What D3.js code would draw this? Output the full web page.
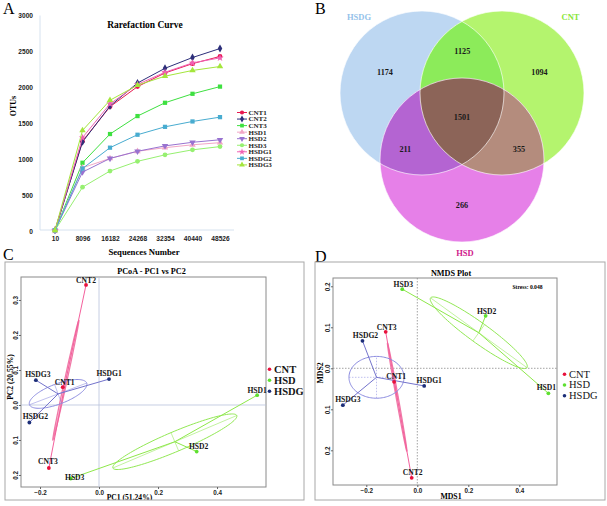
<!DOCTYPE html>
<html>
<head>
<meta charset="utf-8">
<script src="https://cdn.jsdelivr.net/npm/d3@7"></script>
<style>
  body { margin: 0; background: #fff; }
  svg { display: block; font-family: "Liberation Serif", "Times New Roman", serif; }
</style>
</head>
<body>
<svg id="chart" width="607" height="506"></svg>
<script>
// ---------- A: rarefaction ----------
const seqDepth = [10, 8096, 16182, 24268, 32354, 40440, 48526];
const otuTicks = [0, 500, 1000, 1500, 2000, 2500, 3000];
const rareNames = ["CNT1", "CNT2", "CNT3", "HSD1", "HSD2", "HSD3", "HSDG1", "HSDG2", "HSDG3"];
const otuCNT1  = [10, 1250, 1730, 2010, 2200, 2330, 2430];
const otuCNT2  = [10, 1240, 1740, 2060, 2265, 2415, 2540];
const otuCNT3  = [10, 950, 1350, 1600, 1785, 1910, 2010];
const otuHSD1  = [10, 880, 1010, 1110, 1160, 1200, 1230];
const otuHSD2  = [10, 820, 1010, 1110, 1185, 1235, 1270];
const otuHSD3  = [10, 610, 835, 970, 1060, 1130, 1175];
const otuHSDG1 = [10, 1300, 1770, 2040, 2210, 2340, 2410];
const otuHSDG2 = [10, 870, 1160, 1340, 1450, 1525, 1585];
const otuHSDG3 = [10, 1400, 1820, 2030, 2155, 2235, 2290];
const rareValues = [otuCNT1, otuCNT2, otuCNT3, otuHSD1, otuHSD2, otuHSD3, otuHSDG1, otuHSDG2, otuHSDG3];

// ---------- B: venn ----------
const vennSets = ["HSDG", "CNT", "HSD"];
const vennRegions = ["HSDG", "CNT", "HSD", "HSDG&CNT", "HSDG&HSD", "CNT&HSD", "HSDG&CNT&HSD"];
const vennCounts = [1174, 1094, 266, 1125, 211, 355, 1501];

// ---------- C: PCoA ----------
const groups = ["CNT", "HSD", "HSDG"];
const pcoaSamples = ["CNT1", "CNT2", "CNT3", "HSD1", "HSD2", "HSD3", "HSDG1", "HSDG2", "HSDG3"];
const pcoaPC1 = [-0.123, -0.044, -0.170, 0.536, 0.331, -0.096, 0.034, -0.236, -0.214];
const pcoaPC2 = [0.051, 0.343, -0.180, 0.028, -0.133, -0.210, 0.074, -0.050, 0.071];
// ellipse half-axes (data units), per group
const pcoaEllipseMajor = [[0.044, 0.171], [0.210, 0.075], [0.097, 0.031]];
const pcoaEllipseMinor = [[0.004, -0.001], [0.013, -0.026], [0.012, -0.027]];
const pcoaXTicks = [-0.2, 0, 0.2, 0.4];
const pcoaYTicks = [-0.2, -0.1, 0, 0.1, 0.2, 0.3];

// ---------- D: NMDS ----------
const nmdsSamples = ["CNT1", "CNT2", "CNT3", "HSD1", "HSD2", "HSD3", "HSDG1", "HSDG2", "HSDG3"];
const nmdsMDS1 = [-0.091, -0.022, -0.124, 0.514, 0.268, -0.059, 0.027, -0.215, -0.292];
const nmdsMDS2 = [-0.033, -0.267, 0.089, -0.061, 0.128, 0.193, -0.043, 0.067, -0.090];
const nmdsEllipseMajor = [[0.038, -0.132], [0.189, -0.085], [0.108, 0]];
const nmdsEllipseMinor = [[0.004, 0.0005], [-0.023, -0.020], [0, 0.051]];
const nmdsXTicks = [-0.2, 0, 0.2, 0.4];
const nmdsYTicks = [-0.2, -0.1, 0, 0.1, 0.2];
const nmdsStress = 0.048;

// ---------- styles ----------
const rareColors = ["#e8174f", "#2d2f7a", "#3ee040", "#f2a6c6", "#9872d0", "#96f070", "#f062b4", "#48acd0", "#a4e63c"];
const rareSymbols = [d3.symbolCircle, d3.symbolDiamond, d3.symbolSquare, d3.symbolTriangle, "down",
                     d3.symbolCircle, d3.symbolStar, d3.symbolSquare, d3.symbolTriangle];
const groupPointColor = { CNT: "#e8103c", HSD: "#5ee030", HSDG: "#1c2e78" };
const groupLineColor  = { CNT: "#f4609c", HSD: "#8ee84a", HSDG: "#7474cc" };
const groupEllColor   = { CNT: "#f07aa8", HSD: "#92e854", HSDG: "#8c8ce0" };

const svg = d3.select("#chart");
svg.append("rect").attr("width", 607).attr("height", 506).attr("fill", "#fff");

function panelLetter(t, x, y) {
    svg.append("text").attr("x", x).attr("y", y).attr("font-size", 16).text(t);
}
panelLetter("A", 3, 14);
panelLetter("B", 315, 14);
panelLetter("C", 3, 260);
panelLetter("D", 315, 262);

// ================= A =================
const xA = d3.scaleLinear().domain([10, 48526]).range([55, 220]);
const yA = d3.scaleLinear().domain([0, 3000]).range([231, 15.5]);
const gA = svg.append("g");

gA.append("line").attr("x1", 40).attr("x2", 40).attr("y1", yA(3000)).attr("y2", 230)
    .attr("stroke", "#d6e2ef").attr("stroke-width", 1);
gA.append("line").attr("x1", 40).attr("x2", 234).attr("y1", 230).attr("y2", 230)
    .attr("stroke", "#d6e2ef").attr("stroke-width", 1);

gA.append("g").attr("transform", "translate(40,0)")
    .call(d3.axisLeft(yA).tickValues(otuTicks).tickSize(0).tickPadding(7).tickFormat(d3.format("d")))
    .call(g => g.select(".domain").remove())
    .selectAll("text").attr("font-size", 6.6).attr("font-weight", "bold").attr("font-family", "inherit").attr("fill", "#222");

gA.append("g").attr("transform", "translate(0,230)")
    .call(d3.axisBottom(xA).tickValues(seqDepth).tickSize(0).tickPadding(6).tickFormat(d3.format("d")))
    .call(g => g.select(".domain").remove())
    .selectAll("text").attr("font-size", 6.6).attr("font-weight", "bold").attr("font-family", "inherit").attr("fill", "#222");

gA.append("text").attr("x", 145).attr("y", 28).attr("text-anchor", "middle")
    .attr("font-size", 9.5).attr("font-weight", "bold").text("Rarefaction Curve");
gA.append("text").attr("x", 144).attr("y", 255).attr("text-anchor", "middle")
    .attr("font-size", 8.7).attr("font-weight", "bold").text("Sequences Number");
gA.append("text").attr("transform", "translate(16,106) rotate(-90)").attr("text-anchor", "middle")
    .attr("font-size", 8).attr("font-weight", "bold").text("OTUs");

function symbolPath(sym, size) {
    if (sym === "down") return d3.symbol(d3.symbolTriangle, size)();
    return d3.symbol(sym, size)();
}
function symbolRot(sym) { return sym === "down" ? " rotate(180)" : ""; }

const lineA = d3.line().x((d, i) => xA(seqDepth[i])).y(d => yA(d));
rareNames.forEach((name, si) => {
    const vals = rareValues[si];
    const col = rareColors[si];
    gA.append("path").attr("d", lineA(vals)).attr("fill", "none")
        .attr("stroke", col).attr("stroke-width", 1);
    gA.selectAll(null).data(vals).enter().append("path")
        .attr("transform", (d, i) => `translate(${xA(seqDepth[i])},${yA(d)})` + symbolRot(rareSymbols[si]))
        .attr("d", symbolPath(rareSymbols[si], 18))
        .attr("fill", col);
});

// legend A
const legA = gA.append("g").attr("transform", "translate(242,112.5)");
rareNames.forEach((name, i) => {
    const row = legA.append("g").attr("transform", `translate(0,${i * 6.55})`);
    row.append("line").attr("x1", -5).attr("x2", 5).attr("stroke", rareColors[i]).attr("stroke-width", 1);
    row.append("path").attr("d", symbolPath(rareSymbols[i], 14))
        .attr("transform", symbolRot(rareSymbols[i]).trim()).attr("fill", rareColors[i]);
    row.append("text").attr("x", 6.5).attr("y", 2.4).attr("font-size", 7)
        .attr("font-weight", "bold").attr("fill", "#222").text(name);
});

// ================= B =================
const vennR = 82;
const vennCenters = { HSDG: [422, 93], CNT: [502, 93], HSD: [462, 160] };
const vennFill = {
    "HSDG": "#bdd7f2", "CNT": "#b4f46e", "HSD": "#e680e8",
    "HSDG&CNT": "#8ceb5a", "HSDG&HSD": "#b464d2", "CNT&HSD": "#b48c7d", "HSDG&CNT&HSD": "#8c6458"
};
const vennLabelPos = {
    "HSDG": [385, 75], "CNT": [539.5, 75], "HSD": [462, 208],
    "HSDG&CNT": [462.3, 54], "HSDG&HSD": [405.3, 152], "CNT&HSD": [519, 152], "HSDG&CNT&HSD": [462, 119.5]
};
const gB = svg.append("g");
const defs = svg.append("defs");
vennSets.forEach(s => {
    defs.append("clipPath").attr("id", "clip-" + s).append("circle")
        .attr("cx", vennCenters[s][0]).attr("cy", vennCenters[s][1]).attr("r", vennR);
});
function vennCircle(parent, s, fill) {
    return parent.append("circle").attr("cx", vennCenters[s][0]).attr("cy", vennCenters[s][1])
        .attr("r", vennR).attr("fill", fill);
}
vennSets.forEach(s => vennCircle(gB, s, vennFill[s]));
vennCircle(gB.append("g").attr("clip-path", "url(#clip-HSDG)"), "CNT", vennFill["HSDG&CNT"]);
vennCircle(gB.append("g").attr("clip-path", "url(#clip-HSDG)"), "HSD", vennFill["HSDG&HSD"]);
vennCircle(gB.append("g").attr("clip-path", "url(#clip-CNT)"), "HSD", vennFill["CNT&HSD"]);
vennCircle(gB.append("g").attr("clip-path", "url(#clip-CNT)").append("g").attr("clip-path", "url(#clip-HSDG)"),
    "HSD", vennFill["HSDG&CNT&HSD"]);
vennSets.forEach(s => vennCircle(gB, s, "none").attr("stroke", "#fff").attr("stroke-width", 0.8).attr("stroke-opacity", 0.8));

vennRegions.forEach((r, i) => {
    gB.append("text").attr("x", vennLabelPos[r][0]).attr("y", vennLabelPos[r][1])
        .attr("text-anchor", "middle").attr("font-size", 8.2).attr("font-weight", "bold")
        .attr("fill", "#1a1a1a").text(vennCounts[i]);
});
gB.append("text").attr("x", 359).attr("y", 20).attr("text-anchor", "middle").attr("font-size", 8.5)
    .attr("font-weight", "bold").attr("fill", "#94c2ea").text("HSDG");
gB.append("text").attr("x", 570.5).attr("y", 20).attr("text-anchor", "middle").attr("font-size", 8.5)
    .attr("font-weight", "bold").attr("fill", "#88e638").text("CNT");
gB.append("text").attr("x", 465).attr("y", 256).attr("text-anchor", "middle").attr("font-size", 8.5)
    .attr("font-weight", "bold").attr("fill", "#d0208c").text("HSD");

// ================= C & D =================
function ordination(o) {
    const g = svg.append("g");
    defs.append("clipPath").attr("id", o.id).append("rect")
        .attr("x", o.outer[0]).attr("y", o.outer[1]).attr("width", o.outer[2] - o.outer[0]).attr("height", o.outer[3] - o.outer[1]);
    const inner = g.append("g").attr("clip-path", `url(#${o.id})`);
    g.append("rect").attr("x", o.outer[0]).attr("y", o.outer[1])
        .attr("width", o.outer[2] - o.outer[0]).attr("height", o.outer[3] - o.outer[1])
        .attr("fill", "none").attr("stroke", "#a8a8a8").attr("stroke-width", 1);

    const x = d3.scaleLinear().domain(o.xDomain).range([o.plot[0], o.plot[2]]);
    const y = d3.scaleLinear().domain(o.yDomain).range([o.plot[3], o.plot[1]]);

    inner.append("rect").attr("x", o.plot[0]).attr("y", o.plot[1])
        .attr("width", o.plot[2] - o.plot[0]).attr("height", o.plot[3] - o.plot[1])
        .attr("fill", "none").attr("stroke", "#8a8a8a").attr("stroke-width", 1);

    // zero lines
    const zl = inner.append("g").attr("stroke", o.zeroColor).attr("stroke-width", 0.8)
        .attr("stroke-dasharray", o.zeroDash);
    zl.append("line").attr("x1", x(0)).attr("x2", x(0)).attr("y1", o.plot[1]).attr("y2", o.plot[3]);
    zl.append("line").attr("x1", o.plot[0]).attr("x2", o.plot[2]).attr("y1", y(0)).attr("y2", y(0));

    // axes
    inner.append("g").attr("transform", `translate(0,${o.plot[3]})`)
        .call(d3.axisBottom(x).tickValues(o.xTicks).tickSize(2).tickPadding(2).tickFormat(d3.format(".1f")))
        .call(a => a.select(".domain").remove())
        .call(a => a.selectAll("line").attr("stroke", "#666"))
        .selectAll("text").attr("font-size", 6.3).attr("font-weight", "bold").attr("font-family", "inherit").attr("fill", "#222");
    const ya = inner.append("g").attr("transform", `translate(${o.plot[0]},0)`)
        .call(d3.axisLeft(y).tickValues(o.yTicks).tickSize(2).tickFormat(d => d3.format(".1f")(Math.abs(d))))
        .call(a => a.select(".domain").remove())
        .call(a => a.selectAll("line").attr("stroke", "#666"));
    ya.selectAll("text").attr("font-size", 6.3).attr("font-weight", "bold").attr("font-family", "inherit").attr("fill", "#222")
        .attr("x", null).attr("dy", null).attr("text-anchor", "middle")
        .attr("transform", "translate(-3.5,0) rotate(-90)");

    inner.append("text").attr("x", o.title[1]).attr("y", o.title[2]).attr("text-anchor", "middle")
        .attr("font-size", 8.2).attr("font-weight", "bold").text(o.title[0]);
    inner.append("text").attr("x", o.xLabel[1]).attr("y", o.xLabel[2]).attr("text-anchor", "middle")
        .attr("font-size", o.labelSize).attr("font-weight", "bold").text(o.xLabel[0]);
    inner.append("text").attr("transform", `translate(${o.yLabel[1]},${o.yLabel[2]}) rotate(-90)`)
        .attr("text-anchor", "middle").attr("font-size", o.labelSize).attr("font-weight", "bold").text(o.yLabel[0]);

    const pts = o.samples.map((s, i) => ({ name: s, group: s.replace(/\d+$/, ""), x: o.xs[i], y: o.ys[i] }));
    const ell = d3.line().x(d => x(d[0])).y(d => y(d[1]));

    groups.forEach((grp, gi) => {
        const gp = pts.filter(p => p.group === grp);
        const c = [d3.mean(gp, p => p.x), d3.mean(gp, p => p.y)];
        const a = o.major[gi], b = o.minor[gi];
        const ring = d3.range(0, 121).map(k => {
            const t = k / 120 * 2 * Math.PI;
            return [c[0] + a[0] * Math.cos(t) + b[0] * Math.sin(t), c[1] + a[1] * Math.cos(t) + b[1] * Math.sin(t)];
        });
        inner.append("path").attr("d", ell(ring)).attr("fill", "none")
            .attr("stroke", groupEllColor[grp]).attr("stroke-width", grp === "CNT" ? 1.3 : 1);
        const ax = inner.append("g").attr("stroke", groupEllColor[grp]).attr("stroke-width", 0.7)
            .attr("stroke-opacity", 0.8).attr("stroke-dasharray", o.axisDash[gi]);
        ax.append("path").attr("d", ell([[c[0] - a[0], c[1] - a[1]], [c[0] + a[0], c[1] + a[1]]]));
        ax.append("path").attr("d", ell([[c[0] - b[0], c[1] - b[1]], [c[0] + b[0], c[1] + b[1]]]));
        gp.forEach(p => {
            inner.append("path").attr("d", ell([c, [p.x, p.y]])).attr("fill", "none")
                .attr("stroke", groupLineColor[grp]).attr("stroke-width", 1);
        });
    });

    inner.selectAll(null).data(pts).enter().append("circle")
        .attr("cx", d => x(d.x)).attr("cy", d => y(d.y)).attr("r", 1.9)
        .attr("fill", d => groupPointColor[d.group]);
    inner.selectAll(null).data(pts).enter().append("text")
        .attr("x", d => x(d.x) + o.labelOff[d.name][0]).attr("y", d => y(d.y) + o.labelOff[d.name][1])
        .attr("text-anchor", "middle").attr("font-size", 7.6).attr("font-weight", "bold").attr("fill", "#151515")
        .text(d => d.name);

    const leg = inner.append("g");
    groups.forEach((grp, i) => {
        leg.append("circle").attr("cx", o.legend[0]).attr("cy", o.legend[1] + i * o.legend[2] - 3.3)
            .attr("r", 1.8).attr("fill", groupPointColor[grp]);
        leg.append("text").attr("x", o.legend[0] + 4.5).attr("y", o.legend[1] + i * o.legend[2])
            .attr("font-size", o.legend[3]).attr("font-weight", o.legend[4]).attr("fill", "#151515").text(grp);
    });
    return { g: inner, x, y };
}

ordination({
    id: "clipC", outer: [5, 262, 304, 500], plot: [21, 277, 266, 487],
    xDomain: [-0.2644, 0.566], yDomain: [-0.2343, 0.3657],
    xTicks: pcoaXTicks, yTicks: pcoaYTicks,
    zeroColor: "#b8c2dc", zeroDash: null,
    title: ["PCoA - PC1 vs PC2", 151.5, 273.5], xLabel: ["PC1 (51.24%)", 129.5, 500], yLabel: ["PC2 (20.55%)", 12.5, 377],
    labelSize: 7.6,
    samples: pcoaSamples, xs: pcoaPC1, ys: pcoaPC2,
    major: pcoaEllipseMajor, minor: pcoaEllipseMinor, axisDash: [null, null, null],
    labelOff: { CNT1: [2, -2], CNT2: [0, -2], CNT3: [-1, -4], HSD1: [0, -2], HSD2: [2, -3], HSD3: [4, 2],
                HSDG1: [0, -3], HSDG2: [6, -3], HSDG3: [2, -3] },
    legend: [269.5, 372.5, 11, 10.5, "bold"]
});

const dPanel = ordination({
    id: "clipD", outer: [315, 262, 605, 500], plot: [333, 278, 557, 485],
    xDomain: [-0.3306, 0.5478], yDomain: [-0.2846, 0.2202],
    xTicks: nmdsXTicks, yTicks: nmdsYTicks,
    zeroColor: "#8a8a8a", zeroDash: "1.5,1.5",
    title: ["NMDS Plot", 451, 275.5], xLabel: ["MDS1", 451, 499], yLabel: ["MDS2", 322.5, 373],
    labelSize: 7.8,
    samples: nmdsSamples, xs: nmdsMDS1, ys: nmdsMDS2,
    major: nmdsEllipseMajor, minor: nmdsEllipseMinor, axisDash: [null, null, "1.5,1.5"],
    labelOff: { CNT1: [2, -3], CNT2: [1, -3], CNT3: [1, -2], HSD1: [-2, -3], HSD2: [1, -2], HSD3: [1, -2],
                HSDG1: [5, -3], HSDG2: [3, -3], HSDG3: [5, -3] },
    legend: [564.5, 377.5, 10.8, 10.5, "normal"]
});
dPanel.g.append("text").attr("x", 527.5).attr("y", 289).attr("text-anchor", "middle")
    .attr("font-size", 5.6).attr("font-weight", "bold").text("Stress:  " + nmdsStress.toFixed(3));
</script>
</body>
</html>
